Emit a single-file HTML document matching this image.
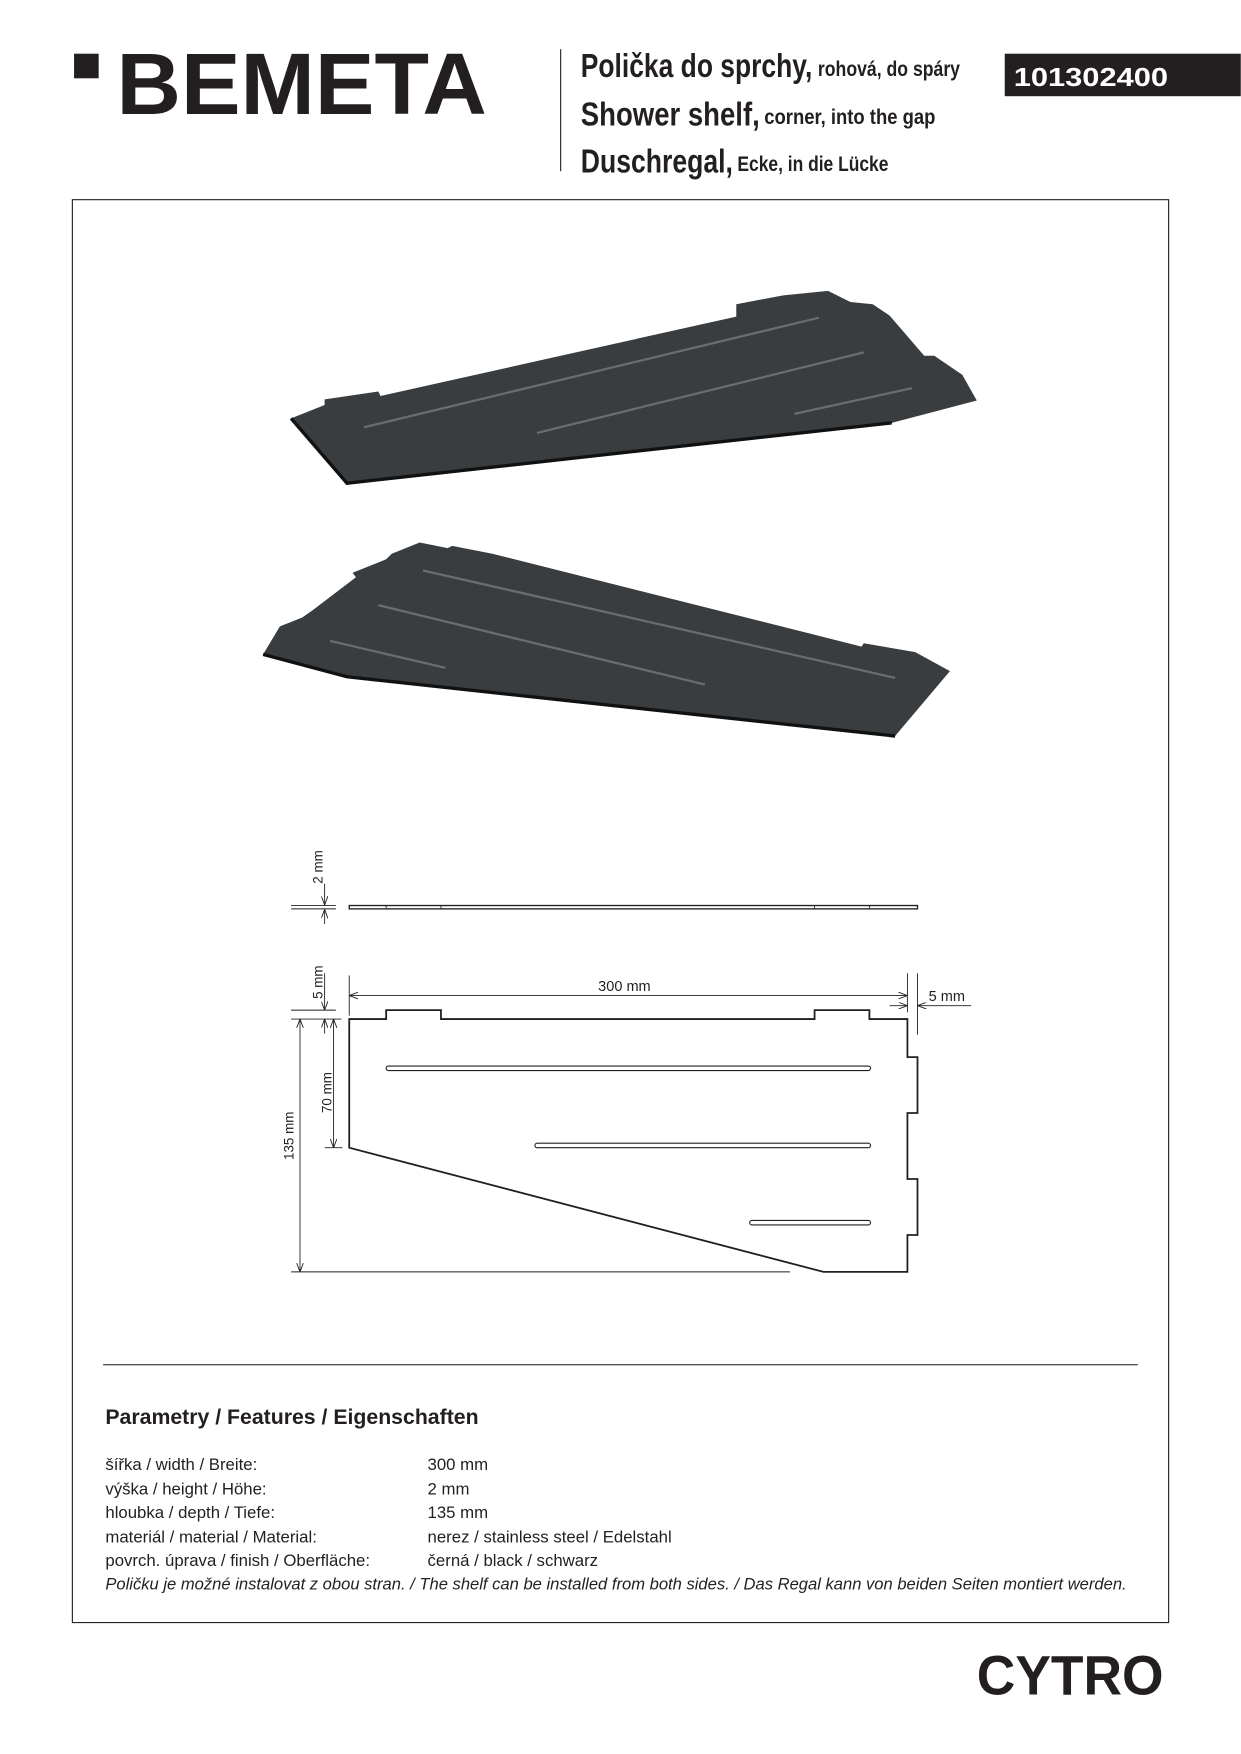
<!DOCTYPE html>
<html><head><meta charset="utf-8"><style>
html,body{margin:0;padding:0;background:#fff}
svg{display:block}
text{font-family:"Liberation Sans",sans-serif;fill:#231f20}
</style></head><body>
<svg width="1241" height="1754" viewBox="0 0 1109 1568" xmlns="http://www.w3.org/2000/svg">
<defs>
<marker id="a" markerWidth="8" markerHeight="6" refX="8" refY="3" orient="auto-start-reverse" markerUnits="userSpaceOnUse"><path d="M0,0 L8,3 L0,6" fill="none" stroke="#231f20" stroke-width="0.8"/></marker>
</defs>
<!-- logo -->
<rect x="66" y="48" width="22" height="22" fill="#231f20"/>
<text x="104" y="102" font-size="78" font-weight="bold" textLength="331" lengthAdjust="spacingAndGlyphs">BEMETA</text>
<line x1="501" y1="44" x2="501" y2="153" stroke="#231f20" stroke-width="1"/>
<text x="519" y="69" font-size="30" font-weight="bold" textLength="207" lengthAdjust="spacingAndGlyphs">Polička do sprchy,</text>
<text x="731" y="68" font-size="19" font-weight="bold" textLength="127" lengthAdjust="spacingAndGlyphs">rohová, do spáry</text>
<text x="519" y="112" font-size="30" font-weight="bold" textLength="160" lengthAdjust="spacingAndGlyphs">Shower shelf,</text>
<text x="683" y="111" font-size="19" font-weight="bold" textLength="153" lengthAdjust="spacingAndGlyphs">corner, into the gap</text>
<text x="519" y="154" font-size="30" font-weight="bold" textLength="136" lengthAdjust="spacingAndGlyphs">Duschregal,</text>
<text x="659" y="153" font-size="19" font-weight="bold" textLength="135" lengthAdjust="spacingAndGlyphs">Ecke, in die Lücke</text>
<rect x="898" y="48" width="211" height="38" fill="#231f20"/>
<text x="906" y="77" font-size="23" font-weight="bold" style="fill:#fff" textLength="138" lengthAdjust="spacingAndGlyphs">101302400</text>
<!-- frame -->
<rect x="64.5" y="178.5" width="980" height="1272" fill="none" stroke="#231f20" stroke-width="1"/>
<!-- 3D shelf 1 -->
<polygon points="260,374 290,362 290,357 338,350 340,354 658,283 658,272 700,264 740,260 760,270 780,272 795,282 826,318 835,318 860,335 873,358 797,378 310,432" fill="#3a3d3f"/>
<polyline points="797,378 310,432 260,374" fill="none" stroke="#111" stroke-width="3"/>
<g stroke="#6a6d70" stroke-width="2"><line x1="325" y1="382" x2="732" y2="284"/><line x1="480" y1="387" x2="772" y2="315"/><line x1="710" y1="370" x2="815" y2="347"/></g>
<!-- 3D shelf 2 -->
<polygon points="235,585 250,560 270,552 280,545 318,516 315,512 345,500 350,495 375,485 400,490 404,488 440,495 770,578 772,575 818,583 849,600 800,658 310,605" fill="#3a3d3f"/>
<polyline points="235,585 310,605 800,658" fill="none" stroke="#111" stroke-width="3"/>
<g stroke="#6a6d70" stroke-width="2"><line x1="378" y1="510" x2="800" y2="606"/><line x1="338" y1="541" x2="630" y2="612"/><line x1="295" y1="573" x2="398" y2="597"/></g>
<!-- side view -->
<rect x="312" y="809.5" width="508" height="3" fill="none" stroke="#231f20" stroke-width="1.2"/>
<g stroke="#231f20" stroke-width="0.8">
<line x1="345" y1="809" x2="345" y2="813"/><line x1="394" y1="809" x2="394" y2="813"/><line x1="728" y1="809" x2="728" y2="813"/><line x1="777" y1="809" x2="777" y2="813"/>
<line x1="260" y1="809.5" x2="300" y2="809.5"/><line x1="260" y1="812.5" x2="300" y2="812.5"/>
<line x1="290" y1="790" x2="290" y2="809" marker-end="url(#a)"/><line x1="290" y1="826" x2="290" y2="813" marker-end="url(#a)"/>
</g>
<text transform="translate(288,790) rotate(-90)" font-size="12">2 mm</text>
<!-- top view -->
<path d="M312,911 H345 V903 H394 V911 H728 V903 H777 V911 H811 V945 H820 V995 H811 V1054 H820 V1104 H811 V1137 H736 L312,1026 Z" fill="none" stroke="#231f20" stroke-width="1.6"/>
<g fill="none" stroke="#231f20" stroke-width="1"><rect x="345" y="953" width="433" height="4" rx="2"/><rect x="478" y="1022" width="300" height="4" rx="2"/><rect x="670" y="1091" width="108" height="4" rx="2"/></g>
<g stroke="#231f20" stroke-width="0.8">
<line x1="312" y1="872" x2="312" y2="908"/><line x1="312" y1="890" x2="811" y2="890" marker-start="url(#a)" marker-end="url(#a)"/>
<line x1="811" y1="870" x2="811" y2="905"/><line x1="820" y1="870" x2="820" y2="925"/>
<line x1="795" y1="899" x2="811" y2="899" marker-end="url(#a)"/><line x1="868" y1="899" x2="820" y2="899" marker-end="url(#a)"/>
<line x1="260" y1="903" x2="300" y2="903"/><line x1="260" y1="911" x2="305" y2="911"/>
<line x1="290" y1="870" x2="290" y2="903" marker-end="url(#a)"/><line x1="290" y1="924" x2="290" y2="911" marker-end="url(#a)"/>
<line x1="298" y1="911" x2="298" y2="1026" marker-start="url(#a)" marker-end="url(#a)"/><line x1="290" y1="1026" x2="306" y2="1026"/>
<line x1="268" y1="911" x2="268" y2="1137" marker-start="url(#a)" marker-end="url(#a)"/><line x1="260" y1="1137" x2="706" y2="1137"/>
</g>
<text x="558" y="886" font-size="13" text-anchor="middle">300 mm</text>
<text x="830" y="895" font-size="13">5 mm</text>
<text transform="translate(288,893) rotate(-90)" font-size="12">5 mm</text>
<text transform="translate(296,995) rotate(-90)" font-size="12">70 mm</text>
<text transform="translate(262,1037) rotate(-90)" font-size="12">135 mm</text>
<!-- params -->
<line x1="92" y1="1220" x2="1017" y2="1220" stroke="#555" stroke-width="1.2"/>
<text x="94" y="1273" font-size="19" font-weight="bold">Parametry / Features / Eigenschaften</text>
<g font-size="15">
<text x="94" y="1314">šířka / width / Breite:</text><text x="382" y="1314">300 mm</text>
<text x="94" y="1336">výška / height / Höhe:</text><text x="382" y="1336">2 mm</text>
<text x="94" y="1357">hloubka / depth / Tiefe:</text><text x="382" y="1357">135 mm</text>
<text x="94" y="1379">materiál / material / Material:</text><text x="382" y="1379">nerez / stainless steel / Edelstahl</text>
<text x="94" y="1400">povrch. úprava / finish / Oberfläche:</text><text x="382" y="1400">černá / black / schwarz</text>
<text x="94" y="1421" font-style="italic" textLength="913" lengthAdjust="spacingAndGlyphs">Poličku je možné instalovat z obou stran. / The shelf can be installed from both sides. / Das Regal kann von beiden Seiten montiert werden.</text>
</g>
<text x="873" y="1515" font-size="50" font-weight="bold" textLength="167" lengthAdjust="spacingAndGlyphs">CYTRO</text>
</svg>
</body></html>
